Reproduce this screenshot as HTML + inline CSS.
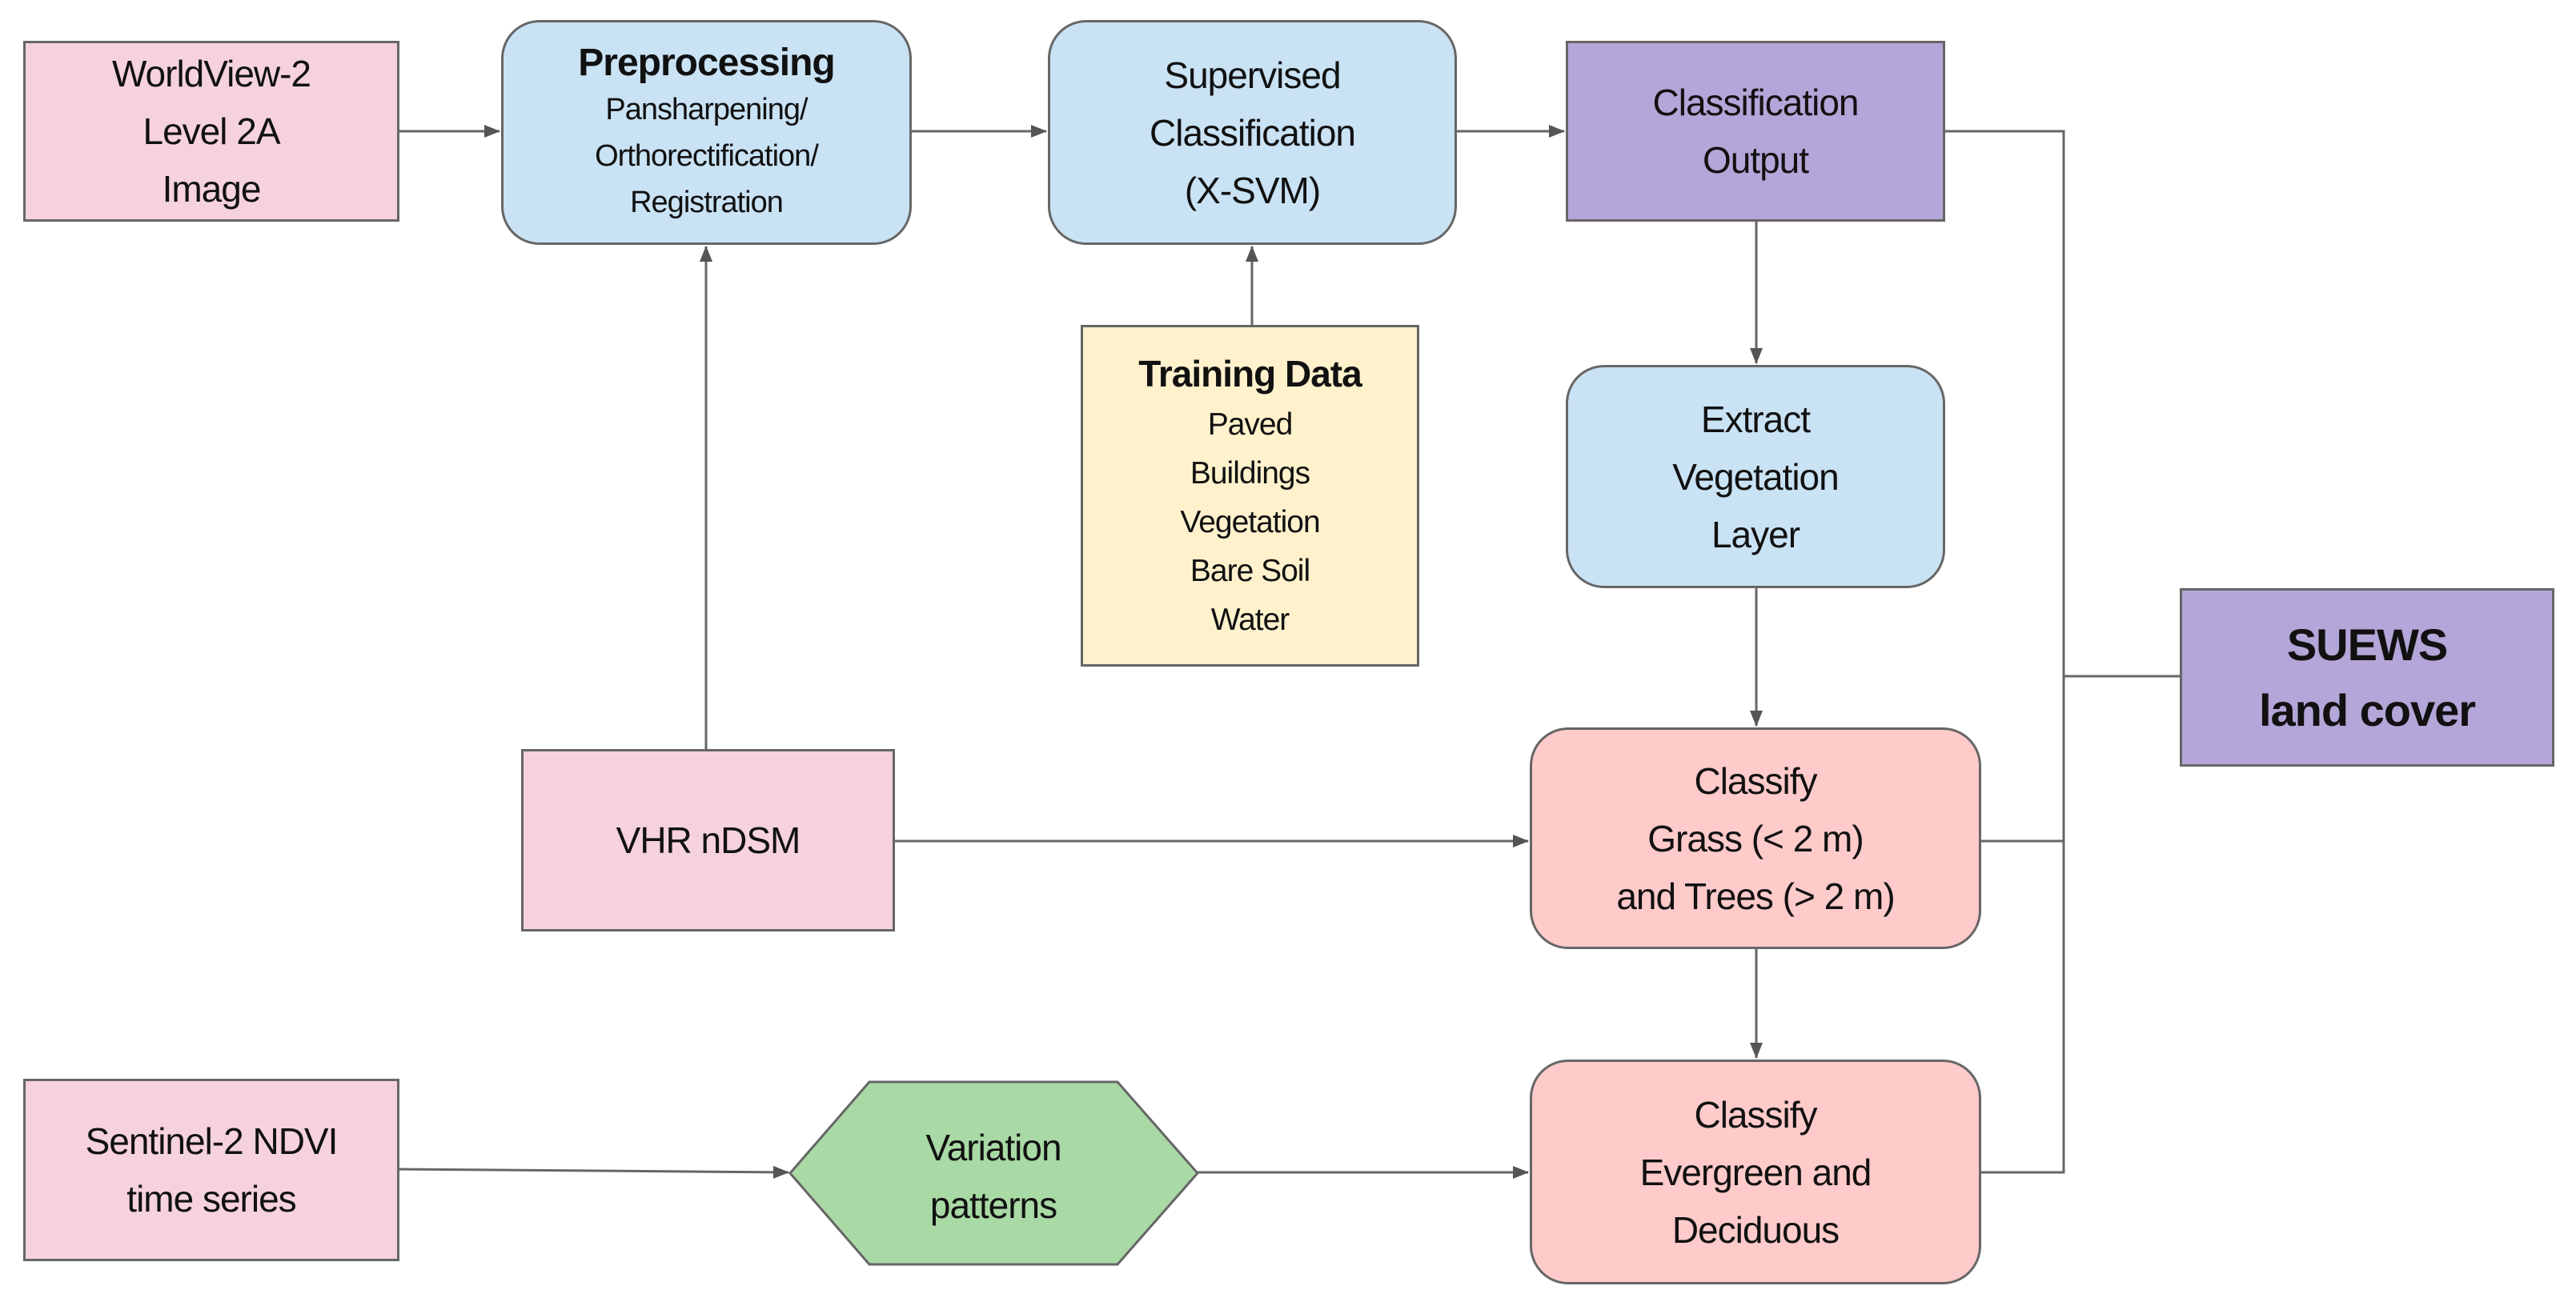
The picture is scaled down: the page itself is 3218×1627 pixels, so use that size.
<!DOCTYPE html>
<html><head><meta charset="utf-8"><style>
html,body{margin:0;padding:0;background:#fff;}
body{width:3218px;height:1627px;overflow:hidden;position:relative;font-family:"Liberation Sans",sans-serif;}
.b{position:absolute;box-sizing:border-box;border:3px solid #666;display:flex;flex-direction:column;justify-content:center;align-items:center;text-align:center;color:#111;font-size:46px;line-height:72px;letter-spacing:-1px;}
.r{border-radius:48px;}
.pink{background:#f5d2de;}
.blue{background:#c9e2f4;}
.purple{background:#b4a6d8;}
.yellow{background:#fff1cc;}
.salmon{background:#ffcaca;}
svg{position:absolute;left:0;top:0;}
</style></head><body>
<svg width="3218" height="1627">
<defs><marker id="a" markerWidth="8" markerHeight="8" refX="7" refY="4" orient="auto" markerUnits="userSpaceOnUse"><path d="M0,0 L8,4 L0,8 z" fill="#555"/></marker>
<marker id="A" markerWidth="20" markerHeight="16" refX="19" refY="8" orient="auto" markerUnits="userSpaceOnUse"><path d="M0,0 L20,8 L0,16 z" fill="#555"/></marker></defs>
<g stroke="#666" stroke-width="3" fill="none">
<line x1="499" y1="164" x2="624" y2="164" marker-end="url(#A)"/>
<line x1="1139" y1="164" x2="1307" y2="164" marker-end="url(#A)"/>
<line x1="1820" y1="164" x2="1954" y2="164" marker-end="url(#A)"/>
<line x1="1564" y1="406" x2="1564" y2="308" marker-end="url(#A)"/>
<line x1="882" y1="936" x2="882" y2="308" marker-end="url(#A)"/>
<line x1="2194" y1="277" x2="2194" y2="454" marker-end="url(#A)"/>
<line x1="2194" y1="735" x2="2194" y2="907" marker-end="url(#A)"/>
<line x1="2194" y1="1186" x2="2194" y2="1322" marker-end="url(#A)"/>
<line x1="1118" y1="1051" x2="1909" y2="1051" marker-end="url(#A)"/>
<line x1="499" y1="1461" x2="985" y2="1465" marker-end="url(#A)"/>
<line x1="1496" y1="1465" x2="1909" y2="1465" marker-end="url(#A)"/>
<polyline points="2430,164 2578,164 2578,1465 2475,1465"/>
<line x1="2475" y1="1051" x2="2578" y2="1051"/>
<line x1="2578" y1="845" x2="2723" y2="845"/>
</g>
<polygon points="1086,1352 1396,1352 1496,1466 1396,1580 1086,1580 987,1466" fill="#a9d9a5" stroke="#666" stroke-width="3"/>
<text x="1241" y="1450" font-family="Liberation Sans, sans-serif" font-size="46" text-anchor="middle" fill="#111" letter-spacing="-1">Variation</text>
<text x="1241" y="1522" font-family="Liberation Sans, sans-serif" font-size="46" text-anchor="middle" fill="#111" letter-spacing="-1">patterns</text>
</svg>
<div class="b pink" style="left:29px;top:51px;width:470px;height:226px;">WorldView-2<br>Level 2A<br>Image</div>
<div class="b blue r" style="left:626px;top:25px;width:513px;height:281px;line-height:58px;"><b style="font-size:48px">Preprocessing</b><span style="font-size:38px">Pansharpening/<br>Orthorectification/<br>Registration</span></div>
<div class="b blue r" style="left:1309px;top:25px;width:511px;height:281px;">Supervised<br>Classification<br>(X-SVM)</div>
<div class="b purple" style="left:1956px;top:51px;width:474px;height:226px;">Classification<br>Output</div>
<div class="b yellow" style="left:1350px;top:406px;width:423px;height:427px;font-size:39px;line-height:61px;"><b style="font-size:46px;line-height:66px">Training Data</b>Paved<br>Buildings<br>Vegetation<br>Bare Soil<br>Water</div>
<div class="b blue r" style="left:1956px;top:456px;width:474px;height:279px;">Extract<br>Vegetation<br>Layer</div>
<div class="b purple" style="left:2723px;top:735px;width:468px;height:223px;font-size:56px;line-height:82px;font-weight:bold;">SUEWS<br>land cover</div>
<div class="b pink" style="left:651px;top:936px;width:467px;height:228px;">VHR nDSM</div>
<div class="b salmon r" style="left:1911px;top:909px;width:564px;height:277px;">Classify<br>Grass (&lt; 2 m)<br>and Trees (&gt; 2 m)</div>
<div class="b pink" style="left:29px;top:1348px;width:470px;height:228px;">Sentinel-2 NDVI<br>time series</div>
<div class="b salmon r" style="left:1911px;top:1324px;width:564px;height:281px;">Classify<br>Evergreen and<br>Deciduous</div>
</body></html>
